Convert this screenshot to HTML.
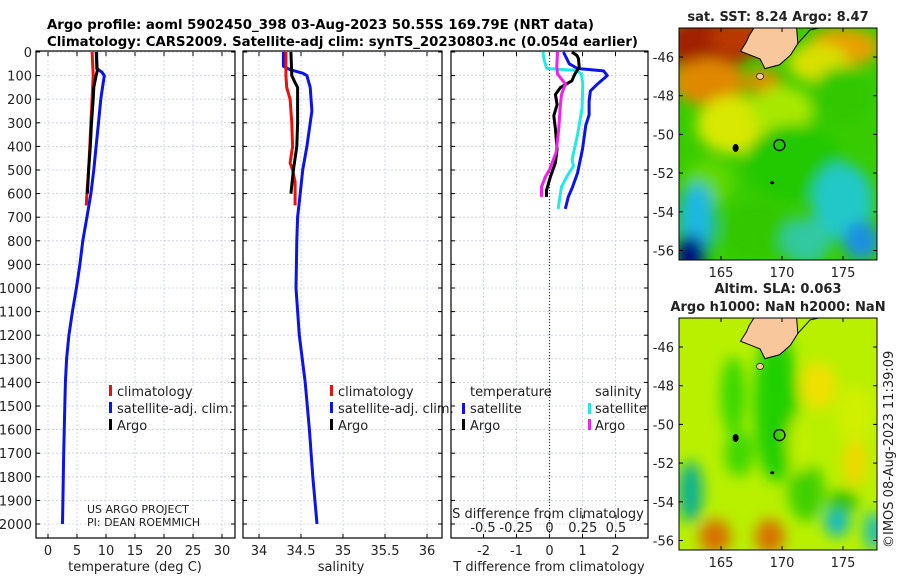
<!DOCTYPE html>
<html><head><meta charset="utf-8">
<style>
body{margin:0;background:#fff;}
svg{display:block;font-family:"DejaVu Sans","Liberation Sans",sans-serif;}
</style></head>
<body>
<svg id="fig" width="900" height="580" viewBox="0 0 900 580" xmlns="http://www.w3.org/2000/svg">
<defs>
<filter id="blur4" x="-50%" y="-50%" width="200%" height="200%"><feGaussianBlur stdDeviation="7"/></filter>
<clipPath id="clipTop"><rect x="679" y="28" width="198" height="232"/></clipPath>
<clipPath id="clipBot"><rect x="679" y="318" width="198" height="232"/></clipPath>
</defs>
<text x="47" y="29" font-size="13.5" font-weight="bold" textLength="547" lengthAdjust="spacingAndGlyphs">Argo profile: aoml 5902450_398 03-Aug-2023 50.55S 169.79E (NRT data)</text>
<text x="47" y="46" font-size="13.5" font-weight="bold" textLength="591" lengthAdjust="spacingAndGlyphs">Climatology: CARS2009. Satellite-adj clim: synTS_20230803.nc (0.054d earlier)</text>
<g id="panels"></g>
<g id="maps"></g>
</svg>
<script>
// ---------- data ----------
const depthTicks=[0,100,200,300,400,500,600,700,800,900,1000,1100,1200,1300,1400,1500,1600,1700,1800,1900,2000];
const tTicks=[0,5,10,15,20,25,30];
const sTicks=[34,34.5,35,35.5,36];
const sTickLabels=["34","34.5","35","35.5","36"];
const dTTicks=[-2,-1,0,1,2];
const dSTicks=[-0.5,-0.25,0,0.25,0.5];
const dSTickLabels=["-0.5","-0.25","0","0.25","0.5"];

const tSatDepth=[0,40,70,85,100,150,200,300,400,500,600,700,800,900,1000,1100,1200,1300,1400,1500,1700,2000];
const tSatVal=[8.4,8.4,8.4,9.3,9.7,9.4,9.1,8.7,8.3,7.9,7.4,6.7,6.0,5.5,4.9,4.2,3.6,3.2,3.0,2.9,2.7,2.5];
const tClimDepth=[0,100,200,300,400,500,600,650];
const tClimVal=[7.6,7.8,7.6,7.4,7.2,7.0,6.7,6.6];
const tArgoDepth=[0,80,100,150,200,300,400,500,600];
const tArgoVal=[8.3,8.5,8.3,7.9,7.8,7.5,7.3,7.0,6.8];

const sSatDepth=[0,60,75,90,100,150,250,400,500,600,700,800,1000,1200,1400,1600,1800,2000];
const sSatVal=[34.29,34.29,34.37,34.52,34.57,34.61,34.63,34.57,34.52,34.49,34.46,34.45,34.44,34.48,34.55,34.6,34.64,34.69];
const sClimDepth=[0,100,150,200,300,400,470,500,550,650];
const sClimVal=[34.32,34.32,34.33,34.37,34.39,34.40,34.37,34.40,34.43,34.43];
const sArgoDepth=[0,100,130,150,300,400,500,600];
const sArgoVal=[34.38,34.39,34.43,34.46,34.46,34.45,34.41,34.38];

const dTSatDepth=[0,50,70,80,100,136,165,209,267,310,412,513,571,614,665];
const dTSatVal=[0.42,0.6,0.85,1.64,1.75,1.45,1.24,1.2,1.2,1.1,1.0,0.85,0.7,0.57,0.48];
const dSSatDepth=[0,35,70,78,93,136,238,354,455,484,528,571,665];
const dSSatVal=[-0.05,-0.04,-0.02,0.2,0.24,0.25,0.245,0.21,0.17,0.18,0.13,0.09,0.065];
const dTArgoDepth=[0,15,28,64,93,122,151,180,223,270,325,412,470,528,586,614];
const dTArgoVal=[0.68,0.83,0.88,0.9,0.77,0.68,0.33,0.18,0.23,0.13,0.18,0.23,0.18,0.03,-0.09,-0.09];
const dSArgoDepth=[0,60,93,136,180,238,325,426,499,528,571,614];
const dSArgoVal=[0.06,0.055,0.06,0.12,0.09,0.08,0.07,0.05,0.0,-0.03,-0.06,-0.06];

// ---------- helpers ----------
const NS="http://www.w3.org/2000/svg";
const yTop=52, yPer100=23.6, yBot=538;
function yScale(d){return yTop+d/100*yPer100;}
function mk(tag,attrs,parent){const e=document.createElementNS(NS,tag);for(const k in attrs)e.setAttribute(k,attrs[k]);parent.appendChild(e);return e;}
const G=document.getElementById('panels');

function panel(x0,x1,name){
  const g=mk('g',{},G);
  
  
  depthTicks.forEach(d=>{const y=yScale(d);
    const l=mk('line',{x1:x0,x2:x1,y1:y,y2:y,stroke:'#c8cce8','stroke-width':0.8,'stroke-dasharray':'2,2'},g);
    
    
    mk('line',{x1:x0,x2:x0+4,y1:y,y2:y,stroke:'#000'},g);
    mk('line',{x1:x1-4,x2:x1,y1:y,y2:y,stroke:'#000'},g);
  });
  return g;
}
function vgrid(g,ticks,sc,x0,x1,labels,labelY){
  ticks.forEach((t,i)=>{const x=sc(t);
    const l=mk('line',{x1:x,x2:x,y1:yTop,y2:yBot,stroke:'#c8cce8','stroke-width':0.8,'stroke-dasharray':'2,2'},g);
    
    
    mk('line',{x1:x,x2:x,y1:yBot-4,y2:yBot,stroke:'#000'},g);
    mk('line',{x1:x,x2:x,y1:yTop,y2:yTop+4,stroke:'#000'},g);
    if(labels){const tx=mk('text',{x:x,y:labelY,'text-anchor':'middle','font-size':13,fill:'#222'},g);tx.textContent=labels[i];
      
      }
  });
}
function frame(g,x0,x1){const r=mk('rect',{x:x0,y:yTop-1,width:x1-x0,height:yBot-yTop+1,fill:'none',stroke:'#000','stroke-width':1.2},g);
  
  }
function line(g,ds,vs,sc,color,name){
  const pts=ds.map((d,i)=>sc(vs[i]).toFixed(1)+','+yScale(d).toFixed(1)).join(' ');
  const p=mk('polyline',{points:pts,fill:'none',stroke:color,'stroke-width':3,'stroke-linejoin':'round'},g);
  
  
}
function txt(g,x,y,s,opts,name){const t=mk('text',Object.assign({x:x,y:y,'font-size':13,fill:'#222'},opts||{}),g);t.textContent=s;
  
  return t;}
function legMark(g,x,y,color,name){const r=mk('rect',{x:x,y:y,width:3,height:11,fill:color},g);
  
  }

depthTicks.forEach(d=>{txt(G,32,yScale(d)+5,String(d),{'text-anchor':'end'},'y-tick-label');});

// Panel 1 temperature
const tX=v=>48+v*5.8;
let g1=panel(36,235,'temperature-panel');
vgrid(g1,tTicks,tX,36,235,tTicks.map(String),555);
line(g1,tSatDepth,tSatVal,tX,'#0a14e6','temp-satellite-line');
line(g1,tClimDepth,tClimVal,tX,'#e8120a','temp-climatology-line');
line(g1,tArgoDepth,tArgoVal,tX,'#000','temp-argo-line');
frame(g1,36,235);
txt(g1,135,571,'temperature (deg C)',{'text-anchor':'middle'},'x-axis-title-temperature');
legMark(g1,109,385,'#e8120a','legend-climatology-mark');txt(g1,117,396,'climatology',{},'legend-climatology');
legMark(g1,109,402,'#0a14e6','legend-satellite-mark');txt(g1,117,413,'satellite-adj. clim.',{},'legend-satellite');
legMark(g1,109,419,'#000','legend-argo-mark');txt(g1,117,430,'Argo',{},'legend-argo');
txt(g1,87,513,'US ARGO PROJECT',{'font-size':11},'project-label');
txt(g1,87,526,'PI: DEAN ROEMMICH',{'font-size':11},'pi-label');

// Panel 2 salinity
const sX=v=>259+(v-34)*84;
let g2=panel(243,442,'salinity-panel');
vgrid(g2,sTicks,sX,243,442,sTickLabels,555);
line(g2,sSatDepth,sSatVal,sX,'#0a14e6','sal-satellite-line');
line(g2,sClimDepth,sClimVal,sX,'#e8120a','sal-climatology-line');
line(g2,sArgoDepth,sArgoVal,sX,'#000','sal-argo-line');
frame(g2,243,442);
txt(g2,341,571,'salinity',{'text-anchor':'middle'},'x-axis-title-salinity');
legMark(g2,330,385,'#e8120a','legend-climatology-mark');txt(g2,338,396,'climatology',{},'legend-climatology');
legMark(g2,330,402,'#0a14e6','legend-satellite-mark');txt(g2,338,413,'satellite-adj. clim.',{},'legend-satellite');
legMark(g2,330,419,'#000','legend-argo-mark');txt(g2,338,430,'Argo',{},'legend-argo');

// Panel 3 differences
const dTX=v=>549.5+v*33;
const dSX=v=>549.5+v*133;
let g3=panel(451,648,'difference-panel');
vgrid(g3,dTTicks,dTX,451,648,dTTicks.map(String),555);
const zl=mk('line',{x1:549.5,x2:549.5,y1:yTop,y2:yBot,stroke:'#333','stroke-width':1.2,'stroke-dasharray':'1,2'},g3);


dSTicks.forEach((t,i)=>{txt(g3,dSX(t),532,dSTickLabels[i],{'text-anchor':'middle'},'s-diff-tick-label');
  mk('line',{x1:dSX(t),x2:dSX(t),y1:515,y2:519,stroke:'#000'},g3);});
line(g3,dTSatDepth,dTSatVal,dTX,'#0a14e6','tdiff-satellite-line');
line(g3,dSSatDepth,dSSatVal,dSX,'#22e8e8','sdiff-satellite-line');
line(g3,dTArgoDepth,dTArgoVal,dTX,'#000','tdiff-argo-line');
line(g3,dSArgoDepth,dSArgoVal,dSX,'#ee22ee','sdiff-argo-line');
frame(g3,451,648);
txt(g3,549,571,'T difference from climatology',{'text-anchor':'middle'},'x-axis-title-tdiff');
txt(g3,548,518,'S difference from climatology',{'text-anchor':'middle'},'x-axis-title-sdiff');
txt(g3,470,396,'temperature',{},'legend-temperature-header');
legMark(g3,462,403,'#0a14e6','legend-tsat-mark');txt(g3,470,413,'satellite',{},'legend-tsat');
legMark(g3,462,419,'#000','legend-targo-mark');txt(g3,470,430,'Argo',{},'legend-targo');
txt(g3,595,396,'salinity',{},'legend-salinity-header');
legMark(g3,588,403,'#22e8e8','legend-ssat-mark');txt(g3,595,413,'satellite',{},'legend-ssat');
legMark(g3,588,419,'#ee22ee','legend-sargo-mark');txt(g3,595,430,'Argo',{},'legend-sargo');

// ---------- maps ----------
const M=document.getElementById('maps');
const lonTicks=[165,170,175];
const latTicks=[-46,-48,-50,-52,-54,-56];
function mapFrame(y0,latY46,title1,title2,name,blobs,bg){
  const g=mk('g',{},M);
  
  
  const lonX=l=>721+(l-165)*12.2;
  const latY=l=>latY46+(-46-l)*19.35;
  const inner=mk('g',{'clip-path':'url(#'+(y0<100?'clipTop':'clipBot')+')'},g);
  mk('rect',{x:679,y:y0,width:198,height:232,fill:bg},inner);
  const bg2=mk('g',{filter:'url(#blur4)'},inner);
  blobs.forEach(b=>mk('ellipse',{cx:lonX(b[0]),cy:latY(b[1]),rx:b[2]*12.2,ry:b[3]*19.35,fill:b[4]},bg2));
  const land=mk('path',{d:`M${lonX(167.7)},${y0} L${lonX(171.2)},${y0} L${lonX(171.3)},${latY(-45.3)} L${lonX(170.7)},${latY(-45.9)} L${lonX(169.8)},${latY(-46.4)} L${lonX(168.6)},${latY(-46.6)} L${lonX(168.2)},${latY(-46.1)} L${lonX(167.4)},${latY(-45.9)} L${lonX(166.6)},${latY(-45.7)} L${lonX(167.1)},${latY(-45.2)} L${lonX(167.3)},${latY(-44.9)} Z`,fill:'#f8c89c',stroke:'#000','stroke-width':1},inner);
  
  
  mk('path',{d:`M${lonX(171.3)},${latY(-45.3)} L${lonX(172.3)},${latY(-44.6)} L${lonX(173)},${y0}`,fill:'none',stroke:'#000','stroke-width':1},inner);
  mk('ellipse',{cx:lonX(168.2),cy:latY(-47.0),rx:3.5,ry:3,fill:'#f8c89c',stroke:'#000','stroke-width':0.6},inner);
  mk('ellipse',{cx:lonX(166.2),cy:latY(-50.7),rx:3,ry:4,fill:'#000'},inner);
  mk('ellipse',{cx:lonX(169.2),cy:latY(-52.5),rx:2,ry:1.5,fill:'#000'},inner);
  const c=mk('circle',{cx:lonX(169.79),cy:latY(-50.55),r:5.5,fill:'none',stroke:'#000','stroke-width':1.3},g);
  
  
  const r=mk('rect',{x:679,y:y0,width:198,height:232,fill:'none',stroke:'#000','stroke-width':1},g);
  
  
  lonTicks.forEach(l=>{const x=lonX(l);mk('line',{x1:x,x2:x,y1:y0+232,y2:y0+228,stroke:'#000'},g);mk('line',{x1:x,x2:x,y1:y0,y2:y0+4,stroke:'#000'},g);
    txt(g,x,y0+232+17,String(l),{'text-anchor':'middle'},'map-lon-label');});
  latTicks.forEach(l=>{const y=latY(l);mk('line',{x1:679,x2:683,y1:y,y2:y,stroke:'#000'},g);mk('line',{x1:873,x2:877,y1:y,y2:y,stroke:'#000'},g);
    txt(g,674,y+5,String(l),{'text-anchor':'end'},'map-lat-label');});
  if(title2){txt(g,778,y0-25,title1,{'text-anchor':'middle','font-weight':'bold'},'map-title');txt(g,778,y0-7,title2,{'text-anchor':'middle','font-weight':'bold'},'map-subtitle');}
  else txt(g,778,y0-7,title1,{'text-anchor':'middle','font-weight':'bold'},'map-title');
}
mapFrame(28,57,'sat. SST: 8.24 Argo: 8.47',null,'sst-map',[
 [164,-45.3,3.5,1.6,'#a02400'],[167,-45,3,1,'#b83800'],[175,-45.5,3,1,'#e8a000'],[164,-47.3,3,1.2,'#e08800'],[168.5,-47.3,1.5,0.7,'#d89000'],
 [173,-46.3,2.5,1.0,'#d8e000'],[175,-48,2.5,1.5,'#30c800'],[166,-49.5,3,1.5,'#d8e800'],[170,-48.8,2.5,1.3,'#a8e800'],
 [171,-51.5,4,2,'#22c800'],[164,-52.5,2,1.2,'#60d800'],[163,-54.5,1.5,2,'#1ab8e0'],[162.5,-56.2,1.2,1,'#001080'],
 [175,-53.5,2.5,2,'#20c8c8'],[176.5,-55.5,1.5,1,'#1a90e0'],[168,-55,3,1.5,'#30c800'],[172,-55.5,2,1.2,'#30c8a0']],'#38cc00');
mapFrame(318,347,'Altim. SLA: 0.063','Argo h1000: NaN h2000: NaN','sla-map',[
 [169.5,-49,1.8,4,'#20d000'],[166,-48.5,1,2,'#38d800'],[173,-48,1.5,1.2,'#f0e000'],[176,-49.5,1.5,1.5,'#d0f000'],
 [162.5,-53.5,1,1.6,'#10b090'],[164.5,-55.8,1.3,0.9,'#d87000'],[169,-55.8,1.2,0.9,'#d87000'],[174.5,-55,1,0.8,'#10b8c8'],
 [177.5,-55.5,0.7,1,'#10b8c8'],[172,-53.5,1.5,1.5,'#40d000'],[176,-52,1,1.2,'#f0d800'],[166.5,-51.5,1.2,1.2,'#40d800'],
 [171.5,-51,1,1.5,'#c0f000'],[175,-54,1.2,0.6,'#30c000']],'#b8f000');
txt(M,893,548,'©IMOS 08-Aug-2023 11:39:09',{'text-anchor':'start',transform:'rotate(-90 893 548)'},'timestamp-label');
</script>
</body></html>
